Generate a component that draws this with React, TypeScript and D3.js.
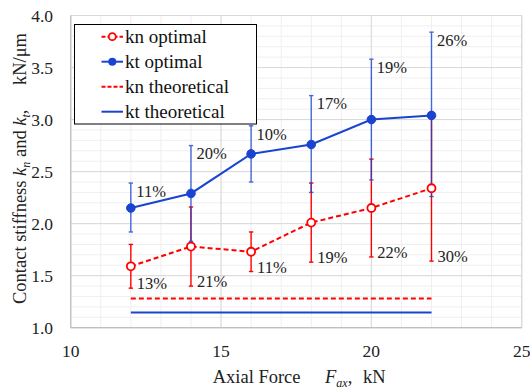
import React from "react";
import * as d3 from "d3";

const forces = [12, 14, 16, 18, 20, 22];
const knOptimal = [1.59, 1.78, 1.73, 2.01, 2.15, 2.34];
const knErrLow = [1.38, 1.40, 1.54, 1.63, 1.68, 1.64];
const knErrHigh = [1.80, 2.16, 1.92, 2.39, 2.62, 3.04];
const knPct = ["13%", "21%", "11%", "19%", "22%", "30%"];
const ktOptimal = [2.15, 2.29, 2.67, 2.76, 3.0, 3.04];
const ktErrLow = [1.92, 1.83, 2.40, 2.30, 2.42, 2.26];
const ktErrHigh = [2.39, 2.75, 2.94, 3.23, 3.58, 3.84];
const ktPct = ["11%", "20%", "10%", "17%", "19%", "26%"];
const theoForces = [12, 22];
const knTheoretical = [1.28, 1.28];
const ktTheoretical = [1.145, 1.145];
const xTicks = [10, 15, 20, 25];
const yTicks = [1.0, 1.5, 2.0, 2.5, 3.0, 3.5, 4.0];
const legendLabels = ["kn optimal", "kt optimal", "kn theoretical", "kt theoretical"];

const RED = "#FF0000";
const BLUE = "#1A44D0";
const FONT = '"Liberation Serif", "Times New Roman", Times, serif';

export default function App() {
  const W = 530, H = 391;
  const left = 70.7, right = 521.7, top = 15.5, bottom = 327.7;
  const x = d3.scaleLinear().domain([10, 25]).range([left, right]);
  const y = d3.scaleLinear().domain([1, 4]).range([bottom, top]);

  const minorX = d3.range(10, 25.01, 1);
  const minorY = d3.range(1, 4.001, 0.1);

  const line = d3.line<[number, number]>().x(d => x(d[0])).y(d => y(d[1]));
  const knPts = forces.map((f, i) => [f, knOptimal[i]] as [number, number]);
  const ktPts = forces.map((f, i) => [f, ktOptimal[i]] as [number, number]);
  const knTheo = theoForces.map((f, i) => [f, knTheoretical[i]] as [number, number]);
  const ktTheo = theoForces.map((f, i) => [f, ktTheoretical[i]] as [number, number]);

  const cap = 2.2;
  const ts: React.CSSProperties = { fontFamily: FONT };
  const titleSize = 18.5;
  const subSize = 12;

  return (
    <svg width={W} height={H} style={{ position: "absolute", left: 0, top: 0, background: "#fff", fontFamily: FONT }}>
      <rect x={0} y={0} width={W} height={H} fill="#fff" />
      {minorX.map((v, i) => (
        <line key={"mx" + i} x1={x(v)} x2={x(v)} y1={top} y2={bottom} stroke="#EFEFEF" strokeWidth={1} />
      ))}
      {minorY.map((v, i) => (
        <line key={"my" + i} x1={left} x2={right} y1={y(v)} y2={y(v)} stroke="#EFEFEF" strokeWidth={1} />
      ))}
      {xTicks.map((v, i) => (
        <line key={"gx" + i} x1={x(v)} x2={x(v)} y1={top} y2={bottom} stroke="#D9D9D9" strokeWidth={1} />
      ))}
      {yTicks.map((v, i) => (
        <line key={"gy" + i} x1={left} x2={right} y1={y(v)} y2={y(v)} stroke="#D9D9D9" strokeWidth={1} />
      ))}
      <rect x={left} y={top} width={right - left} height={bottom - top} fill="none" stroke="#D9D9D9" strokeWidth={1} />
      <line x1={left} x2={left} y1={top} y2={bottom} stroke="#BFBFBF" strokeWidth={1.2} />
      <line x1={left} x2={right} y1={bottom} y2={bottom} stroke="#BFBFBF" strokeWidth={1.2} />

      {yTicks.map((v, i) => (
        <text key={"yt" + i} style={ts} x={53} y={y(v)} dy="0.35em" textAnchor="end" fontSize={17.5} fill="#222">
          {v.toFixed(1)}
        </text>
      ))}
      {xTicks.map((v, i) => (
        <text key={"xt" + i} style={ts} x={x(v)} y={357} textAnchor="middle" fontSize={17.5} fill="#222">
          {v}
        </text>
      ))}

      <path d={line(knTheo) || ""} fill="none" stroke={RED} strokeWidth={2} strokeDasharray="5,3" />
      <path d={line(ktTheo) || ""} fill="none" stroke={BLUE} strokeWidth={2} />

      {forces.map((f, i) => (
        <g key={"ke" + i} stroke={RED} strokeWidth={1.4}>
          <line x1={x(f)} x2={x(f)} y1={y(knErrLow[i])} y2={y(knErrHigh[i])} />
          <line x1={x(f) - cap} x2={x(f) + cap} y1={y(knErrLow[i])} y2={y(knErrLow[i])} />
          <line x1={x(f) - cap} x2={x(f) + cap} y1={y(knErrHigh[i])} y2={y(knErrHigh[i])} />
        </g>
      ))}
      {forces.map((f, i) => (
        <g key={"te" + i} stroke={BLUE} strokeWidth={1.4} opacity={0.8}>
          <line x1={x(f)} x2={x(f)} y1={y(ktErrLow[i])} y2={y(ktErrHigh[i])} />
          <line x1={x(f) - cap} x2={x(f) + cap} y1={y(ktErrLow[i])} y2={y(ktErrLow[i])} />
          <line x1={x(f) - cap} x2={x(f) + cap} y1={y(ktErrHigh[i])} y2={y(ktErrHigh[i])} />
        </g>
      ))}

      <path d={line(knPts) || ""} fill="none" stroke={RED} strokeWidth={2} strokeDasharray="5,3" />
      <path d={line(ktPts) || ""} fill="none" stroke={BLUE} strokeWidth={2} />
      {knPts.map((p, i) => (
        <circle key={"kc" + i} cx={x(p[0])} cy={y(p[1])} r={4} fill="#fff" stroke={RED} strokeWidth={1.8} />
      ))}
      {ktPts.map((p, i) => (
        <circle key={"tc" + i} cx={x(p[0])} cy={y(p[1])} r={4.3} fill={BLUE} stroke={BLUE} strokeWidth={1} />
      ))}

      {forces.map((f, i) => (
        <text key={"tp" + i} style={ts} x={x(f) + 5.5} y={y(ktErrHigh[i]) + 8} dy="0.35em" fontSize={16.5} fill="#222">
          {ktPct[i]}
        </text>
      ))}
      {forces.map((f, i) => (
        <text key={"kp" + i} style={ts} x={x(f) + 6} y={y(knErrLow[i]) - 4.5} dy="0.35em" fontSize={16.5} fill="#222">
          {knPct[i]}
        </text>
      ))}

      <rect x={74.5} y={24.5} width={182} height={99.5} fill="#fff" stroke="#000" strokeWidth={1} />
      {legendLabels.map((lab, i) => {
        const ly = 36.7 + i * 25;
        const isRed = i % 2 === 0;
        const col = isRed ? RED : BLUE;
        return (
          <g key={"lg" + i}>
            <line x1={101.5} x2={123} y1={ly} y2={ly} stroke={col} strokeWidth={2} strokeDasharray={isRed ? "4,2" : undefined} />
            {i === 0 && <circle cx={112.3} cy={ly} r={3.5} fill="#fff" stroke={RED} strokeWidth={1.8} />}
            {i === 1 && <circle cx={112.3} cy={ly} r={4} fill={BLUE} />}
            <text style={ts} x={125} y={ly} dy="0.35em" fontSize={19} fill="#111">{lab}</text>
          </g>
        );
      })}

      {/* x axis title */}
      <text style={ts} x={212.7} y={382.5} fontSize={titleSize} fill="#222">Axial Force</text>
      <text style={ts} x={325} y={382.5} fontSize={titleSize} fill="#222">
        <tspan fontStyle="italic">F</tspan>
        <tspan fontStyle="italic" fontSize={subSize} dy={4}>ax</tspan>
        <tspan dy={-4}>,</tspan>
      </text>
      <text style={ts} x={385.5} y={382.5} textAnchor="end" fontSize={titleSize} fill="#222">kN</text>

      {/* y axis title */}
      <text style={ts} transform="translate(25.5,304) rotate(-90)" fontSize={titleSize} fill="#222">
        <tspan>Contact stiffness </tspan>
        <tspan fontStyle="italic">k</tspan>
        <tspan fontStyle="italic" fontSize={subSize} dy={4}>n</tspan>
        <tspan dy={-4}> and </tspan>
        <tspan fontStyle="italic">k</tspan>
        <tspan fontStyle="italic" fontSize={subSize} dy={4}>t</tspan>
        <tspan dy={-4}>,</tspan>
      </text>
      <text style={ts} transform="translate(25.5,33) rotate(-90)" textAnchor="end" fontSize={titleSize} fill="#222">kN/μm</text>
    </svg>
  );
}
